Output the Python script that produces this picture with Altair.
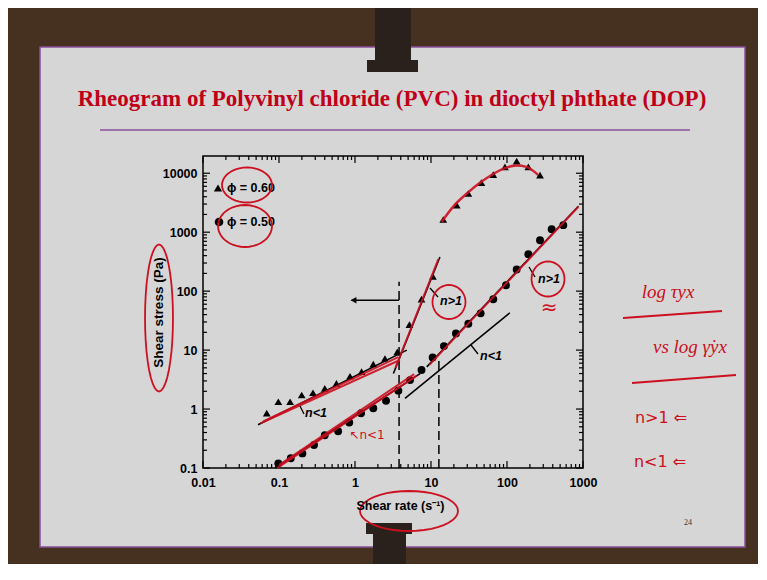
import math
import altair as alt
import pandas as pd

# ---------------- data ----------------
# phi = 0.60 (triangles)
tri_low_x = [0.069, 0.098, 0.14, 0.199, 0.28, 0.40, 0.57, 0.86, 1.22, 1.74, 2.48, 3.6]
tri_low_y = [0.85, 1.33, 1.33, 1.73, 1.89, 2.24, 2.72, 3.6, 4.3, 5.8, 7.2, 9.3]
tri_steep_x = [5.2, 7.5, 10.6]
tri_steep_y = [27, 73, 178]
tri_high_x = [14.5, 21.8, 31, 46, 66, 94, 134, 191, 272]
tri_high_y = [1640, 2870, 4530, 6950, 9500, 12800, 16000, 12800, 9250]
# phi = 0.50 (circles)
circ_x = [0.098, 0.143, 0.203, 0.289, 0.40, 0.60, 0.84, 1.2, 1.74, 2.56, 3.72, 5.3, 7.5,
          10.5, 14.8, 21.3, 31, 45, 66, 97, 134, 191, 272, 387, 551]
circ_y = [0.12, 0.146, 0.177, 0.245, 0.36, 0.42, 0.59, 0.85, 1.03, 1.38, 2.05, 3.1, 4.6,
          7.5, 11.7, 19.2, 28, 42, 73, 126, 233, 424, 731, 1125, 1315]

# black power-law fit lines (segment endpoints)
fit_seg = ["tl", "tl", "ts", "ts", "cl", "cl", "cm", "cm", "ch", "ch"]
fit_x = [0.053, 4.8, 3.2, 13.1, 0.089, 7.2, 4.55, 109, 8.8, 870]
fit_y = [0.54, 10.0, 4.0, 380, 0.1, 4.0, 1.52, 43, 5.2, 2760]

# red hand-drawn traces
red_seg = ["a", "a", "b", "b", "c", "c", "d", "d", "e", "e", "f", "f"]
red_x = [0.057, 3.9, 0.062, 3.7, 3.4, 12.5, 0.095, 6.5, 0.10, 6.0, 9.5, 870]
red_y = [0.57, 6.8, 0.62, 7.6, 5.0, 350, 0.1, 3.7, 0.112, 3.9, 5.6, 2700]
arc_x = [13.8, 20, 30, 45, 65, 95, 134, 180, 258]
arc_y = [1500, 2800, 4600, 7000, 9600, 12300, 13500, 12800, 9300]

# dashed verticals and arrow
dash_x = [3.8, 12.7]
dash_bottom = [0.1, 0.1]
dash_top = [144, 7.7]
arrow_x = [0.9]
arrow_x2 = [3.8]
arrow_y = [70]

# axis ticks
x_major = [0.01, 0.1, 1, 10, 100, 1000]
y_major = [0.1, 1, 10, 100, 1000, 10000]
x_minor = [k * 10 ** d for d in range(-2, 3) for k in range(2, 10)]
y_minor = [k * 10 ** d for d in range(-1, 4) for k in range(2, 10)]

TITLE = "Rheogram of Polyvinyl chloride (PVC) in dioctyl phthate (DOP)"
XTITLE = "Shear rate (s⁻¹)"
YTITLE = "Shear stress (Pa)"

# ---------------- styling ----------------
W, H = 380, 312
OX, OY = 203, 156          # page position of the plot origin
RED = "#cc1020"
TRED = "#c00018"
PURPLE = "#8a4f9e"
BROWN = "#46301f"
SLIDE = "#d6d6d6"
POLE = "#2a211c"
SANS = "Liberation Sans, Arial, sans-serif"

xs = alt.Scale(type="log", domain=[0.01, 1000], nice=False)
ys = alt.Scale(type="log", domain=[0.1, 19600], nice=False)

xaxis = alt.Axis(values=x_major, format="~g", ticks=False, domain=False, grid=False,
                 labelFont=SANS, labelFontSize=12.5, labelFontWeight="bold",
                 labelColor="black", labelPadding=8, labelFlush=False, zindex=1,
                 title=XTITLE, titleFont=SANS, titleFontSize=12.5, titleFontWeight="bold",
                 titleColor="black", titleX=197, titleY=37, titleAlign="center",
                 titleBaseline="middle")
yaxis = alt.Axis(values=y_major, format="~g", ticks=False, domain=False, grid=False,
                 labelFont=SANS, labelFontSize=12.5, labelFontWeight="bold",
                 labelColor="black", labelPadding=6, labelFlush=False, zindex=1,
                 title=YTITLE, titleFont=SANS, titleFontSize=13.5, titleFontWeight="bold",
                 titleColor="black", titleX=-45, titleY=156, titleAngle=270,
                 titleAlign="center", titleBaseline="middle")


def X(f="x"):
    return alt.X(f"{f}:Q", scale=xs, axis=xaxis)


def Y(f="y"):
    return alt.Y(f"{f}:Q", scale=ys, axis=yaxis)


one = pd.DataFrame({"k": [0]})


def prect(x1, y1, x2, y2, **kw):
    return alt.Chart(one).mark_rect(**kw).encode(
        x=alt.value(x1 - OX), x2=alt.value(x2 - OX),
        y=alt.value(y1 - OY), y2=alt.value(y2 - OY))


def pline(x1, y1, x2, y2, **kw):
    return alt.Chart(one).mark_rule(**kw).encode(
        x=alt.value(x1 - OX), x2=alt.value(x2 - OX),
        y=alt.value(y1 - OY), y2=alt.value(y2 - OY))


def ptext(t, x, y, **kw):
    return alt.Chart(one).mark_text(**kw).encode(
        x=alt.value(x - OX), y=alt.value(y - OY), text=alt.value(t))


def ellipse(cx, cy, w, h, **kw):
    s = max(w, h)
    pts = []
    for i in range(40):
        a = 2 * math.pi * i / 40
        pts.append(f"{(w / s) * math.cos(a):.3f},{(h / s) * math.sin(a):.3f}")
    path = "M" + " L".join(pts) + " Z"
    return alt.Chart(one).mark_point(shape=path, size=s * s, filled=False, stroke=RED,
                                     strokeWidth=1.8, opacity=1, **kw).encode(
        x=alt.value(cx - OX), y=alt.value(cy - OY))


layers = []

# slide and photo elements
layers.append(prect(40, 47, 745, 547, fill=SLIDE, stroke=PURPLE, strokeWidth=1.5))
layers.append(prect(375, -2, 411, 64, fill=POLE))
layers.append(prect(367, 60, 418, 72, fill=POLE))
layers.append(prect(373, 530, 406, 580, fill=POLE))
layers.append(prect(366, 523, 412, 534, fill=POLE))

# slide title
layers.append(ptext(TITLE, 392, 106, font="Liberation Serif", fontSize=23, fontWeight="bold",
                    color=TRED, align="center", baseline="alphabetic"))
layers.append(pline(100, 130, 690, 130, color=PURPLE, strokeWidth=1.5))

# plot frame
layers.append(prect(OX, OY, OX + W, OY + H, filled=False, stroke="black", strokeWidth=1.5))

# ticks on all four sides, pointing inward
dxM = pd.DataFrame({"v": x_major})
dxm = pd.DataFrame({"v": x_minor})
dyM = pd.DataFrame({"v": y_major})
dym = pd.DataFrame({"v": y_minor})
for d, L in ((dxM, 7), (dxm, 4)):
    layers.append(alt.Chart(d).mark_rule(color="black", strokeWidth=1.2).encode(
        x=X("v"), y=alt.value(H), y2=alt.value(H - L)))
    layers.append(alt.Chart(d).mark_rule(color="black", strokeWidth=1.2).encode(
        x=X("v"), y=alt.value(0), y2=alt.value(L)))
for d, L in ((dyM, 7), (dym, 4)):
    layers.append(alt.Chart(d).mark_rule(color="black", strokeWidth=1.2).encode(
        y=Y("v"), x=alt.value(0), x2=alt.value(L)))
    layers.append(alt.Chart(d).mark_rule(color="black", strokeWidth=1.2).encode(
        y=Y("v"), x=alt.value(W), x2=alt.value(W - L)))

# dashed verticals
ddash = pd.DataFrame({"x": dash_x, "y": dash_bottom, "y2": dash_top})
layers.append(alt.Chart(ddash).mark_rule(color="black", strokeWidth=1.5, strokeDash=[9, 5]).encode(
    x=X(), y=Y(), y2="y2:Q"))

# arrow
darrow = pd.DataFrame({"x": arrow_x, "x2": arrow_x2, "y": arrow_y})
layers.append(alt.Chart(darrow).mark_rule(color="black", strokeWidth=1.5).encode(
    x=X(), x2="x2:Q", y=Y()))
layers.append(alt.Chart(darrow).mark_point(shape="triangle-left", filled=True, color="black",
                                           size=45, opacity=1, xOffset=2).encode(x=X(), y=Y()))

# black fit lines
dfit = pd.DataFrame({"x": fit_x, "y": fit_y, "seg": fit_seg})
layers.append(alt.Chart(dfit).mark_line(color="black", strokeWidth=1.6).encode(
    x=X(), y=Y(), detail="seg:N"))

# data points
dtri = pd.DataFrame({"x": tri_low_x + tri_steep_x + tri_high_x,
                     "y": tri_low_y + tri_steep_y + tri_high_y})
dcirc = pd.DataFrame({"x": circ_x, "y": circ_y})
layers.append(alt.Chart(dtri).mark_point(shape="triangle-up", filled=True, color="black",
                                         size=60, opacity=1).encode(x=X(), y=Y()))
layers.append(alt.Chart(dcirc).mark_circle(color="black", size=62, opacity=1).encode(x=X(), y=Y()))

# red hand-drawn traces
dred = pd.DataFrame({"x": red_x, "y": red_y, "seg": red_seg})
layers.append(alt.Chart(dred).mark_line(color=RED, strokeWidth=2, opacity=0.9).encode(
    x=X(), y=Y(), detail="seg:N"))
darc = pd.DataFrame({"x": arc_x, "y": arc_y})
layers.append(alt.Chart(darc).mark_line(color=RED, strokeWidth=2.5, interpolate="monotone",
                                        opacity=0.9).encode(x=X(), y=Y()))

# legend
layers.append(alt.Chart(one).mark_point(shape="triangle-up", filled=True, color="black",
                                        size=70, opacity=1).encode(
    x=alt.value(218 - OX), y=alt.value(188 - OY)))
layers.append(alt.Chart(one).mark_circle(color="black", size=75, opacity=1).encode(
    x=alt.value(219 - OX), y=alt.value(222 - OY)))
layers.append(ptext("ϕ = 0.60", 227, 188, font=SANS, fontSize=12.5, fontWeight="bold",
                    color="black", align="left", baseline="middle"))
layers.append(ptext("ϕ = 0.50", 227, 222, font=SANS, fontSize=12.5, fontWeight="bold",
                    color="black", align="left", baseline="middle"))

# black annotations
for t, x, y in (("n>1", 451, 301), ("n>1", 549, 279), ("n<1", 491, 356), ("n<1", 316, 413)):
    layers.append(ptext(t, x, y, font=SANS, fontSize=12.5, fontWeight="bold",
                        fontStyle="italic", color="black", align="center", baseline="middle"))
for x1, y1, x2, y2 in ((430, 288, 438, 297), (529, 267, 535, 277),
                       (471, 345, 478, 354), (300, 406, 304, 414)):
    layers.append(pline(x1, y1, x2, y2, color="black", strokeWidth=1.3))

# red ellipses
layers.append(ellipse(247, 185, 50, 35))
layers.append(ellipse(245, 226, 54, 42))
layers.append(ellipse(449, 302, 33, 34))
layers.append(ellipse(548, 279, 33, 35))
layers.append(ellipse(159, 318, 28, 147))
layers.append(ellipse(409, 511, 98, 40))

# red hand notes
layers.append(ptext("↖n<1", 367, 435, font="DejaVu Sans", fontSize=12, color=RED,
                    align="center", baseline="middle"))
layers.append(ptext("≈", 549, 308, font="DejaVu Sans", fontSize=20, color=RED,
                    align="center", baseline="middle"))
HAND = "Liberation Serif"
layers.append(ptext("log τyx", 668, 292, font=HAND, fontSize=19, fontStyle="italic",
                    color=RED, align="center", baseline="middle"))
layers.append(pline(623, 318, 722, 311, color=RED, strokeWidth=1.8))
layers.append(ptext("vs log γ̇yx", 690, 347, font=HAND, fontSize=19, fontStyle="italic",
                    color=RED, align="center", baseline="middle"))
layers.append(pline(632, 383, 736, 375, color=RED, strokeWidth=1.8))
layers.append(ptext("n>1 ⇐", 661, 418, font="DejaVu Sans", fontSize=16, color=RED,
                    align="center", baseline="middle"))
layers.append(ptext("n<1 ⇐", 660, 462, font="DejaVu Sans", fontSize=16, color=RED,
                    align="center", baseline="middle"))

# page number
layers.append(ptext("24", 688, 523, font="Liberation Serif", fontSize=8, color="#333333",
                    align="center", baseline="middle"))

chart = alt.layer(*layers).properties(
    width=W, height=H,
    autosize=alt.AutoSizeParams(type="none"),
    padding={"left": 195, "top": 148, "right": 175, "bottom": 96},
).configure(background=BROWN).configure_view(strokeWidth=0)

chart.save("out.html", embed_options={"renderer": "svg", "actions": False})
